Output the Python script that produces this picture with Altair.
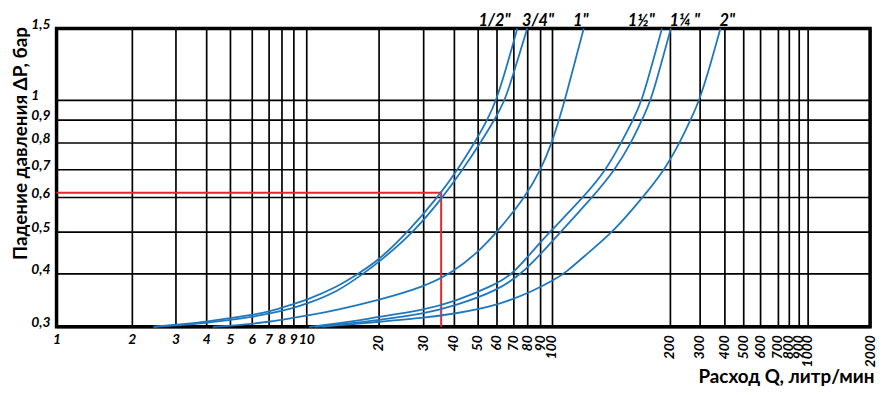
import math
import altair as alt
import pandas as pd

# ---- data ----
series_names = ['1/2"', '3/4"', '1"', '1½"', '1¼"', '2"']

q_12 = [2.45, 3.0, 4.0, 5.04, 6.0, 7.0, 9.0, 10.0, 13.42, 16.54, 20.0, 26.2, 34.48, 41.52, 48.63, 55.03, 60.0, 66.3, 72.7]
dp_12 = [0.300, 0.3037, 0.3093, 0.3167, 0.3222, 0.3278, 0.3426, 0.350, 0.3741, 0.400, 0.431, 0.500, 0.600, 0.700, 0.800, 0.900, 1.000, 1.25, 1.50]

q_34 = [2.45, 3.0, 4.0, 5.04, 6.0, 7.0, 9.0, 10.0, 13.42, 17.35, 20.0, 27.67, 36.13, 43.5, 51.45, 58.88, 65.11, 72.03, 80.0]
dp_34 = [0.300, 0.3019, 0.3074, 0.313, 0.3185, 0.3241, 0.3352, 0.3426, 0.3648, 0.400, 0.4262, 0.500, 0.600, 0.700, 0.800, 0.900, 1.000, 1.25, 1.50]

q_1 = [4.27, 5.04, 6.0, 7.0, 9.0, 10.0, 13.42, 20.0, 30.0, 39.63, 50.0, 60.55, 78.5, 90.8, 100.0, 104.2, 107.9, 114.0, 120.5]
dp_1 = [0.300, 0.3019, 0.3056, 0.3093, 0.3167, 0.3204, 0.3315, 0.350, 0.3741, 0.4024, 0.450, 0.500, 0.600, 0.700, 0.800, 0.900, 1.000, 1.25, 1.50]

q_112 = [10.29, 13.42, 20.0, 30.0, 40.0, 60.0, 70.0, 83.7, 98.26, 120.5, 137.8, 150.3, 161.3, 169.9, 180.1, 190.9]
dp_112 = [0.300, 0.3056, 0.3185, 0.3315, 0.3463, 0.3796, 0.400, 0.4524, 0.500, 0.600, 0.700, 0.800, 0.900, 1.000, 1.25, 1.50]

q_114 = [10.89, 14.76, 20.0, 30.0, 40.0, 60.0, 76.27, 91.6, 105.4, 127.0, 145.2, 159.4, 169.9, 179.1, 189.8, 202.7]
dp_114 = [0.300, 0.3056, 0.313, 0.3241, 0.3389, 0.3667, 0.400, 0.450, 0.500, 0.600, 0.700, 0.800, 0.900, 1.000, 1.25, 1.50]

q_2 = [11.64, 20.0, 30.0, 40.0, 60.0, 86.0, 101.8, 107.9, 124.8, 143.5, 170.9, 194.3, 228.9, 265.6, 300.0, 340.5, 382.0]
dp_2 = [0.300, 0.3093, 0.3167, 0.3241, 0.3389, 0.3685, 0.3889, 0.400, 0.4524, 0.500, 0.600, 0.700, 0.800, 0.900, 1.000, 1.25, 1.50]

# curve labels above the plot (Q where each label is centred)
label_text = ['1/2"', '3/4"', '1"', '1½"', '1¼ "', '2"']
label_q = [58.9, 88.4, 118.4, 169.0, 245.0, 414.0]

# red reading example
red_q = [1.0, 35.5, 35.5]
red_dp = [0.615, 0.615, 0.3]

# axis ticks
x_ticks_small = [1, 2, 3, 4, 5, 6, 7, 8, 9, 10]
x_ticks_large = [20, 30, 40, 50, 60, 70, 80, 90, 100, 200, 300, 400, 500, 600, 700, 800, 900, 1000, 2000]
y_ticks = [0.3, 0.4, 0.5, 0.6, 0.7, 0.8, 0.9, 1.0, 1.5]

# uneven (hand-drawn) scale of the original: pixel offset of each tick in the plot
x_tick_offsets = [0, 76, 120, 151, 175, 197, 214, 227, 239, 252,
                  325, 370, 401, 425, 444, 461, 475, 488, 500,
                  619, 649, 674, 693, 710, 728, 739, 749, 758, 821]
y_tick_offsets = [301, 247, 205, 170, 142, 115, 92, 72, 0]

W, H = 821, 301

# ---- build tables ----
all_q = [q_12, q_34, q_1, q_112, q_114, q_2]
all_dp = [dp_12, dp_34, dp_1, dp_112, dp_114, dp_2]
rows = []
for name, qs, dps in zip(series_names, all_q, all_dp):
    for i, (q, dp) in enumerate(zip(qs, dps)):
        rows.append({"series": name, "logQ": math.log10(q), "dP": dp, "k": i})
curves_df = pd.DataFrame(rows)

red_df = pd.DataFrame({"logQ": [math.log10(v) for v in red_q], "dP": red_dp, "k": [0, 1, 2]})
lab_df = pd.DataFrame({"txt": label_text, "logQ": [math.log10(v) for v in label_q]})

log_small = [math.log10(v) for v in x_ticks_small]
log_large = [math.log10(v) for v in x_ticks_large]

x_scale = alt.Scale(type="linear", domain=log_small + log_large, range=x_tick_offsets,
                    nice=False, zero=False)
y_scale = alt.Scale(type="linear", domain=y_ticks, range=y_tick_offsets, nice=False, zero=False)

FONT = "Lato"
BLUE = "#1f78be"
RED = "#e8262c"

grid_kw = dict(grid=True, gridColor="black", gridWidth=1.7, gridOpacity=1,
               domain=False, ticks=False, labelOverlap=False, labelFlush=False,
               labelFont=FONT, labelFontSize=14, labelFontWeight="bold",
               labelFontStyle="italic", labelColor="black")

y_axis = alt.Axis(values=y_ticks, orient="left",
                  labelExpr="replace(toString(datum.value), '.', ',')",
                  labelAlign="left", labelBaseline="alphabetic", labelPadding=26,
                  title="Падение давления ΔP, бар", titleFont=FONT, titleFontSize=19,
                  titleFontWeight="bold", titleColor="black", titleAngle=270,
                  titleX=-36, titleY=-2, titleAlign="right", titleBaseline="middle",
                  **grid_kw)

x_axis_small = alt.Axis(values=log_small, orient="bottom",
                        labelExpr="format(pow(10, datum.value), 'd')",
                        labelAngle=0, labelAlign="center", labelBaseline="top", labelPadding=6,
                        title="Расход Q, литр/мин", titleFont=FONT, titleFontSize=19,
                        titleFontWeight="bold", titleColor="black",
                        titleX=825, titleY=56, titleAlign="right", titleBaseline="alphabetic",
                        **grid_kw)

x_axis_large = alt.Axis(values=log_large, orient="bottom",
                        labelExpr="format(pow(10, datum.value), 'd')",
                        labelAngle=270, labelAlign="right", labelBaseline="middle", labelPadding=8,
                        title=None, **grid_kw)

red_layer = alt.Chart(red_df).mark_line(color=RED, strokeWidth=2).encode(
    x=alt.X("logQ:Q", scale=x_scale, axis=x_axis_large),
    y=alt.Y("dP:Q", scale=y_scale, axis=y_axis),
    order="k:Q",
)

curve_layer = alt.Chart(curves_df).mark_line(color=BLUE, strokeWidth=1.8, interpolate="basis").encode(
    x=alt.X("logQ:Q", scale=x_scale, axis=x_axis_small),
    y=alt.Y("dP:Q", scale=y_scale, axis=y_axis),
    detail="series:N",
    order="k:Q",
)

label_layer = alt.Chart(lab_df).mark_text(
    font=FONT, fontSize=16.5, fontWeight="bold", fontStyle="italic", color="black",
    align="center", baseline="alphabetic",
).encode(
    x=alt.X("logQ:Q", scale=x_scale, axis=None),
    y=alt.value(-2.5),
    text="txt:N",
)

chart = alt.layer(red_layer, curve_layer, label_layer).resolve_axis(x="independent").properties(
    width=W, height=H,
    autosize=alt.AutoSizeParams(type="none"),
    padding={"left": 49, "top": 19, "right": 7, "bottom": 59},
).configure_view(stroke="black", strokeWidth=3.5)

chart.save("out.html", embed_options={"renderer": "svg", "actions": False})
